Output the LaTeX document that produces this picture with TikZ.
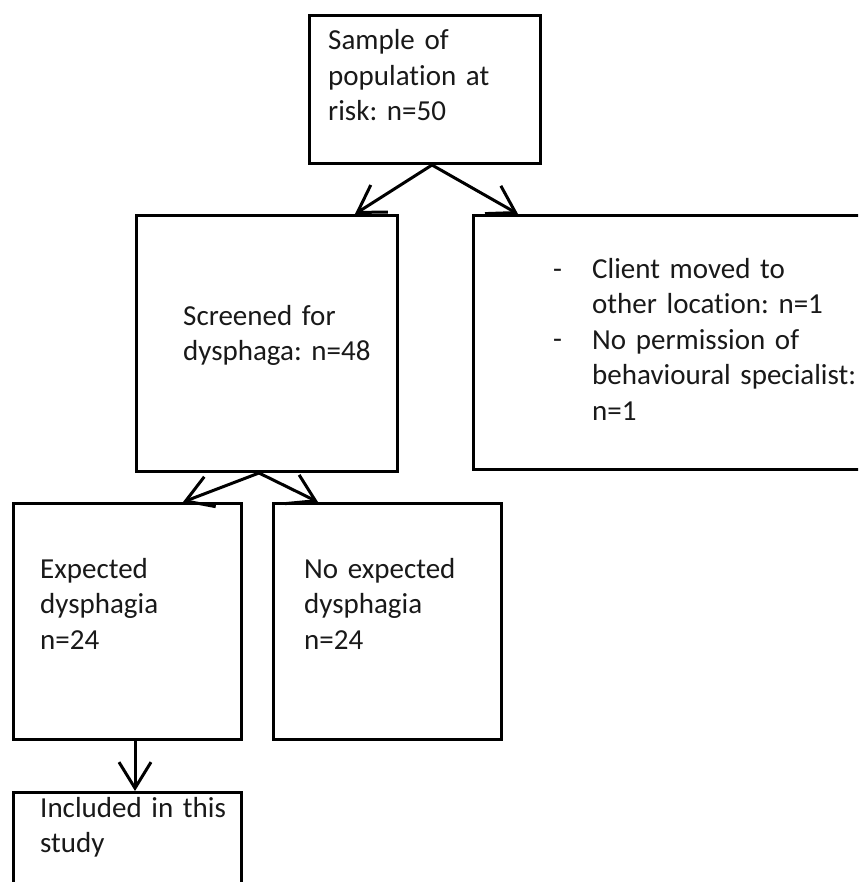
\documentclass[tikz,border=0pt]{standalone}
\usepackage{fontspec}
\setmainfont{Carlito}[Ligatures={NoCommon}]
\usetikzlibrary{arrows.meta,calc}
\frenchspacing
\begin{document}
\begin{tikzpicture}[x=1pt,y=-1pt,
  box/.style={draw=black,line width=3pt,inner sep=0pt},
  txt/.style={anchor=base west,inner sep=0pt,align=left,text width=300pt,
    font=\frenchspacing\fontsize{29}{35.5}\selectfont,text=black!90},
  conn/.style={line width=3pt,-{Straight Barb[length=26pt,width=32pt,line width=3pt]}}]
\useasboundingbox (0,0) rectangle (858,882);
\clip (0,0) rectangle (858,882);
\fill[white] (0,0) rectangle (858,882);
% boxes
\node[box,minimum width=231pt,minimum height=148pt,anchor=north west] (top) at (308,14) {};
\node[box,minimum width=261pt,minimum height=256pt,anchor=north west] (scr) at (135,214) {};
\node[box,minimum width=420pt,minimum height=254pt,anchor=north west] (exc) at (472,214) {};
\node[box,minimum width=228pt,minimum height=236pt,anchor=north west] (exp) at (12,502) {};
\node[box,minimum width=228pt,minimum height=236pt,anchor=north west] (noexp) at (272,502) {};
\node[box,minimum width=228pt,minimum height=150pt,anchor=north west] (inc) at (12,791) {};
% texts
\node[txt] (ttop) at (328,50) {Sample of\\population at\\risk: n=50};
\node[txt] (tscr) at (183,325) {Screened for\\dysphaga: n=48};
\node[txt] (d1) at (553,278) {-};
\node[txt] (d2) at (553,348) {-};
\node[txt] (texc) at (592,278) {Client moved to\\other location: n=1\\No permission of\\behavioural specialist:\\n=1};
\node[txt] (texp) at (40,578) {Expected\\dysphagia\\n=24};
\node[txt] (tnoexp) at (304,578) {No expected\\dysphagia\\n=24};
\node[txt] (tinc) at (40,817) {Included in this\\study};
% connectors
\coordinate (t1) at ($(top.south)+(7,0)$);
\coordinate (s1) at ($(scr.south)+(-8,0)$);
\draw[conn] (t1) -- ($(scr.north west)+(220,0)$);
\draw[conn] (t1) -- ($(exc.north west)+(46,0)$);
\draw[conn] (s1) -- ($(exp.north west)+(171,0)$);
\draw[conn] (s1) -- ($(noexp.north west)+(46,0)$);
\draw[conn] ($(exp.south west)+(123,0)$) -- ($(inc.north west)+(123,0)$);
\end{tikzpicture}
\end{document}
